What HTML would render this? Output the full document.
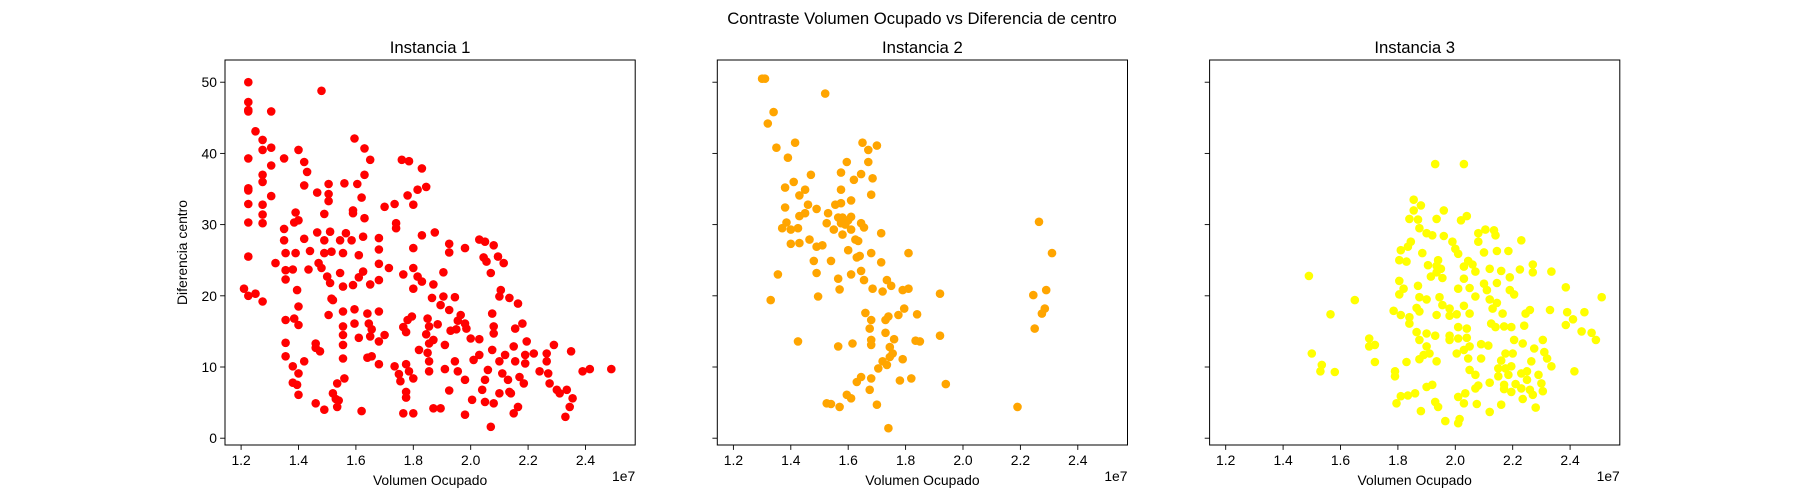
<!DOCTYPE html>
<html><head><meta charset="utf-8"><style>
html,body{margin:0;padding:0;background:#fff;}
svg{display:block;font-family:"Liberation Sans","DejaVu Sans",sans-serif;}
</style></head><body>
<svg id="chart" width="1800" height="500" viewBox="0 0 1800 500" xmlns="http://www.w3.org/2000/svg">
<rect x="0" y="0" width="1800" height="500" fill="#fff"/>
<text x="922" y="24" font-size="16.7" text-anchor="middle">Contraste Volumen Ocupado vs Diferencia de centro</text>
</svg>
<script>
const xTicks=[1.2,1.4,1.6,1.8,2.0,2.2,2.4];
const xTickLabels=["1.2","1.4","1.6","1.8","2.0","2.2","2.4"];
const yTicks=[0,10,20,30,40,50];
const yTickLabels=["0","10","20","30","40","50"];
const panelTitles=["Instancia 1","Instancia 2","Instancia 3"];
const seriesColors=["#ff0000","#ffa500","#ffff00"];

const inst1X=[1.225,1.48,1.225,1.225,1.225,1.305,1.25,1.275,1.275,1.305,1.40,1.225,1.35,1.42,1.595,1.63,1.65,1.76,1.785,1.83,1.305,1.275,1.275,1.43,1.42,1.56,1.505,1.605,1.63,1.845,1.78,1.815,1.80,1.225,1.225,1.305,1.465,1.505,1.505,1.62,1.70,1.735,1.225,1.275,1.275,1.275,1.225,1.39,1.385,1.40,1.49,1.59,1.63,1.74,1.74,1.59,1.83,1.875,1.35,1.35,1.42,1.465,1.49,1.51,1.545,1.565,1.585,1.625,1.68,1.355,1.39,1.44,1.49,1.515,1.555,1.61,1.68,1.80,1.925,1.925,1.98,2.03,2.05,2.08,2.045,2.055,2.095,2.115,2.07,1.32,1.225,1.355,1.38,1.355,1.435,1.47,1.48,1.50,1.51,1.545,1.555,1.59,1.625,1.61,1.65,1.68,1.68,1.715,1.765,1.80,1.815,1.83,1.80,1.905,1.87,1.865,1.905,1.945,1.895,1.925,1.965,1.955,1.98,1.985,1.95,1.93,1.885,1.85,1.855,1.845,1.855,1.87,1.82,1.85,1.855,1.855,1.765,1.775,1.795,1.78,1.68,1.64,1.645,1.655,1.65,1.61,1.68,1.70,1.595,1.595,1.555,1.555,1.555,1.555,1.555,1.505,1.52,1.515,1.395,1.40,1.355,1.385,1.40,1.355,1.355,1.46,1.475,1.42,1.38,1.40,1.38,1.395,1.40,1.46,1.49,1.52,1.535,1.56,1.535,1.54,1.62,1.64,1.655,1.68,1.735,1.775,1.75,1.785,1.80,1.755,1.775,1.775,1.765,1.80,1.87,1.895,1.98,2.07,1.91,1.91,1.925,1.945,1.955,1.98,2.005,2.00,2.03,2.01,2.03,2.05,2.06,2.075,2.08,2.075,2.08,2.10,2.11,2.12,2.13,2.135,2.10,2.08,2.05,2.04,2.14,2.155,2.15,2.17,2.185,2.165,2.15,2.18,2.155,2.165,2.135,2.105,2.10,2.195,2.19,2.19,2.22,2.24,2.265,2.265,2.27,2.275,2.29,2.30,2.31,2.335,2.355,2.345,2.33,2.35,2.39,2.415,2.49,1.21,1.225,1.25,1.275,1.53,1.46];
const inst1Y=[50,48.8,47.2,46.1,45.9,45.9,43.1,41.9,40.5,40.8,40.5,39.3,39.3,38.8,42.1,40.7,39.1,39.1,38.9,37.9,38.3,37.0,36.0,37.4,35.5,35.8,35.7,35.7,37.0,35.3,34.1,34.9,32.8,35.1,34.8,34.0,34.5,34.3,33.3,33.8,32.5,32.9,32.9,32.8,31.4,30.2,30.3,31.7,30.3,30.6,31.5,32.0,30.9,30.2,29.5,31.6,28.5,28.9,29.4,27.8,28.0,28.9,27.8,29.0,27.8,28.8,27.8,28.3,28.1,26.0,26.0,26.3,26.0,26.2,26.0,25.7,26.5,26.7,27.3,26.1,26.7,27.9,27.6,27.1,25.4,24.8,25.5,24.6,23.2,24.6,25.5,23.6,23.7,22.3,23.7,24.6,23.9,22.7,21.8,23.2,21.3,21.5,23.4,22.6,21.6,24.5,22.2,23.9,23.0,23.9,22.7,22.0,21.0,23.3,21.6,19.7,19.9,19.8,18.7,18.0,17.3,16.5,16.1,15.4,15.3,15.1,16.0,16.8,15.7,14.6,13.3,13.8,12.4,12.0,10.8,9.4,15.6,14.9,17.1,16.6,17.8,17.5,16.1,15.3,14.3,14.1,13.6,14.5,18.1,16.1,17.8,15.7,14.5,13.1,11.2,17.3,19.4,19.6,20.8,18.5,16.6,16.8,15.9,13.4,11.5,13.3,12.2,10.8,10.1,9.1,7.8,7.5,6.1,4.9,4.0,6.3,7.7,8.4,4.4,5.3,3.8,11.3,11.5,10.4,10.1,10.4,9.0,9.4,8.4,8.0,6.5,5.7,3.5,3.5,4.2,4.2,3.3,1.6,13.1,9.7,6.7,10.8,9.4,8.2,5.4,14.0,13.9,11.0,11.7,8.2,9.6,12.4,15.7,17.5,14.7,10.8,9.1,11.7,8.2,6.5,6.3,4.9,5.1,6.8,6.3,10.8,12.9,8.6,7.7,4.4,3.5,16.1,15.4,18.9,19.7,20.8,19.9,13.6,11.7,10.5,11.9,9.4,11.9,10.8,9.1,7.7,13.1,6.8,6.3,6.8,5.6,4.4,3.0,12.2,9.4,9.7,9.7,21.0,20.0,20.3,19.2,5.5,12.7];

const inst2X=[1.30,1.31,1.52,1.34,1.32,1.415,1.35,1.39,1.65,1.67,1.70,1.595,1.67,1.575,1.645,1.62,1.685,1.47,1.41,1.38,1.45,1.43,1.575,1.68,1.61,1.46,1.38,1.49,1.555,1.575,1.53,1.43,1.45,1.58,1.61,1.525,1.55,1.59,1.61,1.58,1.625,1.635,1.655,1.645,1.385,1.37,1.40,1.425,1.40,1.43,1.465,1.49,1.51,1.60,1.63,1.64,1.68,1.715,1.81,1.715,1.48,1.54,1.49,1.61,1.645,1.655,1.565,1.57,1.355,1.33,1.495,1.685,1.72,1.735,1.75,1.79,1.81,1.92,1.66,1.68,1.675,1.73,1.74,1.775,1.795,1.84,1.73,1.76,1.68,1.68,1.835,1.85,1.92,1.425,1.565,1.615,1.745,1.755,1.745,1.72,1.705,1.735,1.79,1.645,1.63,1.68,1.675,1.78,1.82,1.94,1.595,1.61,1.525,1.54,1.57,1.70,1.74,2.19,2.265,2.31,2.29,2.245,2.285,2.275,2.25,1.575,1.565,1.60];
const inst2Y=[50.5,50.5,48.4,45.8,44.2,41.5,40.8,39.4,41.5,40.5,41.1,38.8,38.8,37.3,37.1,36.3,36.5,37.0,36.0,35.2,34.9,34.1,34.9,34.2,33.4,32.8,32.4,32.2,32.8,33.0,31.6,31.2,31.6,31.0,31.1,30.2,29.3,30.0,29.3,28.6,27.9,27.7,29.6,30.2,30.3,29.5,29.3,29.5,27.3,27.4,27.9,26.9,27.1,26.4,25.4,25.6,26.0,28.8,26.0,24.7,24.9,24.9,23.2,23.0,23.5,22.2,22.4,20.9,23.0,19.4,19.9,21.0,20.6,22.2,21.4,20.8,21.0,20.3,17.6,16.6,15.4,16.6,17.1,17.3,18.2,17.4,14.8,13.9,13.8,13.1,13.7,13.6,14.4,13.6,12.9,13.3,12.8,11.9,11.4,10.8,9.8,10.3,11.1,8.6,7.9,8.4,6.8,8.1,8.4,7.6,6.1,5.6,4.9,4.8,4.4,4.7,1.4,4.4,30.4,26.0,20.8,20.1,18.2,17.5,15.4,30.2,31.0,30.6];

const inst3X=[1.49,1.565,1.65,1.50,1.535,1.53,1.58,1.70,1.70,1.72,1.72,1.79,1.79,1.83,1.795,1.81,1.835,1.86,1.88,1.90,1.92,1.93,1.94,1.965,2.01,2.015,2.01,2.03,2.035,2.07,2.08,2.075,2.12,2.12,2.16,2.28,2.415,1.93,2.03,1.855,1.88,1.855,1.84,1.87,1.875,1.90,1.92,1.96,1.935,2.02,2.04,1.96,1.99,2.00,2.01,1.845,1.835,1.81,1.805,1.83,1.885,1.94,2.08,2.105,2.135,2.14,2.08,2.10,2.145,2.185,2.23,2.045,2.06,2.03,2.07,2.12,2.16,2.225,2.27,2.27,2.335,1.905,1.935,1.95,1.915,1.955,1.935,2.03,2.145,2.19,1.805,1.82,1.805,1.87,2.01,2.05,2.10,2.11,2.19,2.205,2.07,2.12,2.145,1.875,1.90,1.945,1.955,1.98,2.03,2.05,1.935,1.875,1.865,1.785,1.81,1.84,1.84,1.98,2.005,2.13,2.165,2.245,2.26,2.33,2.385,2.51,2.39,2.41,2.385,2.45,2.44,2.475,2.49,2.125,2.14,2.17,2.195,2.24,1.865,1.90,1.93,1.875,1.90,1.89,1.91,1.875,1.935,1.98,2.01,2.04,1.98,2.01,2.04,2.03,2.05,2.09,2.115,2.005,2.045,2.09,2.05,2.07,2.205,2.235,2.305,2.275,2.31,2.175,2.20,2.16,2.265,2.32,2.335,2.15,2.175,2.195,2.15,2.185,2.23,2.25,2.29,2.17,2.21,2.23,2.25,2.26,2.30,2.305,2.235,2.27,2.17,2.195];
const inst3Y=[22.8,17.4,19.4,11.9,10.3,9.4,9.3,14.0,12.9,13.1,10.7,9.4,8.7,10.7,4.9,5.9,6.0,6.3,3.8,7.2,7.5,5.1,4.4,2.4,2.1,2.7,5.8,4.9,6.3,7.0,7.4,4.8,3.7,7.8,4.7,4.3,9.4,38.5,38.5,33.5,32.7,32.0,30.8,30.7,29.5,28.8,28.5,32.0,30.8,30.6,31.2,28.4,27.6,26.6,25.9,27.6,26.9,26.4,25.0,24.8,26.0,25.0,28.8,29.3,29.2,28.5,27.6,26.1,26.3,26.3,27.8,24.9,24.4,24.1,23.4,23.8,23.5,23.7,24.4,23.3,23.4,24.3,24.2,23.8,22.7,22.5,23.3,22.4,21.8,22.6,22.1,21.0,20.2,21.4,21.0,21.1,21.7,20.8,20.8,20.2,19.9,19.5,19.0,19.8,19.5,19.8,18.7,18.2,18.6,17.5,17.3,17.8,18.3,17.9,17.3,17.0,16.1,17.2,17.4,18.2,17.5,17.5,18.0,18.0,21.2,19.8,17.7,16.7,15.9,17.7,15.0,14.8,13.8,16.1,15.6,15.7,15.6,15.8,14.9,14.7,14.4,13.8,12.9,11.7,11.9,11.1,10.8,14.4,15.6,15.4,13.8,14.0,14.1,12.4,12.9,13.2,13.0,11.9,11.2,11.2,9.6,8.9,13.8,13.3,13.8,12.6,12.1,11.9,11.9,10.9,10.8,11.2,10.1,9.8,9.8,10.1,8.7,8.9,9.1,9.4,8.9,7.5,7.6,7.0,8.2,6.8,7.7,6.6,5.5,6.1,6.9,6.5];

const xsAll=[inst1X,inst2X,inst3X];
const ysAll=[inst1Y,inst2Y,inst3Y];

const NS="http://www.w3.org/2000/svg";
const svg=document.getElementById('chart');
const panelLefts=[225,717.3,1209.6];
const PW=410.2, PT=60, PH=385;
const XMIN=1.1439, XMAX=2.5732, YMIN=-0.955, YMAX=53.12;
function mk(tag,attrs,parent){const e=document.createElementNS(NS,tag);for(const k in attrs)e.setAttribute(k,attrs[k]);(parent||svg).appendChild(e);return e;}
function xScale(left,v){return left+(v-XMIN)/(XMAX-XMIN)*PW;}
function yScale(v){return PT+PH-(v-YMIN)/(YMAX-YMIN)*PH;}

for(let p=0;p<3;p++){
  const L=panelLefts[p];
  const g=mk('g',{});
  
  
  const pts=mk('g',{},g);
  
  
  const xs=xsAll[p], ys=ysAll[p];
  for(let i=0;i<xs.length;i++){
    const c=mk('circle',{cx:xScale(L,xs[i]).toFixed(1),cy:yScale(ys[i]).toFixed(1),r:4.3,fill:seriesColors[p]},pts);
    
    
  }
  const frame=mk('rect',{x:L,y:PT,width:PW,height:PH,fill:'none',stroke:'#000','stroke-width':1},g);
  
  
  for(let i=0;i<xTicks.length;i++){
    const x=xScale(L,xTicks[i]);
    mk('line',{x1:x,x2:x,y1:PT+PH,y2:PT+PH+4.9,stroke:'#000','stroke-width':0.9},g);
    const t=mk('text',{x:x,y:PT+PH+20,'font-size':13.9,'text-anchor':'middle',fill:'#000'},g);
    
    
    t.textContent=xTickLabels[i];
  }
  for(let i=0;i<yTicks.length;i++){
    const y=yScale(yTicks[i]);
    mk('line',{x1:L-4.9,x2:L,y1:y,y2:y,stroke:'#000','stroke-width':0.9},g);
    if(p===0){
      const t=mk('text',{x:L-8,y:y+5,'font-size':13.9,'text-anchor':'end',fill:'#000'},g);
      
      
      t.textContent=yTickLabels[i];
    }
  }
  const ti=mk('text',{x:L+PW/2,y:PT-7,'font-size':16.7,'text-anchor':'middle',fill:'#000'},g);
  
  
  ti.textContent=panelTitles[p];
  const xl=mk('text',{x:L+PW/2,y:485,'font-size':13.9,'text-anchor':'middle',fill:'#000'},g);
  
  
  xl.textContent='Volumen Ocupado';
  const off=mk('text',{x:L+PW,y:481,'font-size':13.9,'text-anchor':'end',fill:'#000'},g);
  
  
  off.textContent='1e7';
  if(p===0){
    const yl=mk('text',{x:0,y:0,'font-size':13.9,'text-anchor':'middle',fill:'#000',transform:'translate(187,'+(PT+PH/2)+') rotate(-90)'},g);
    
    
    yl.textContent='Diferencia centro';
  }
}
</script>
</body></html>
